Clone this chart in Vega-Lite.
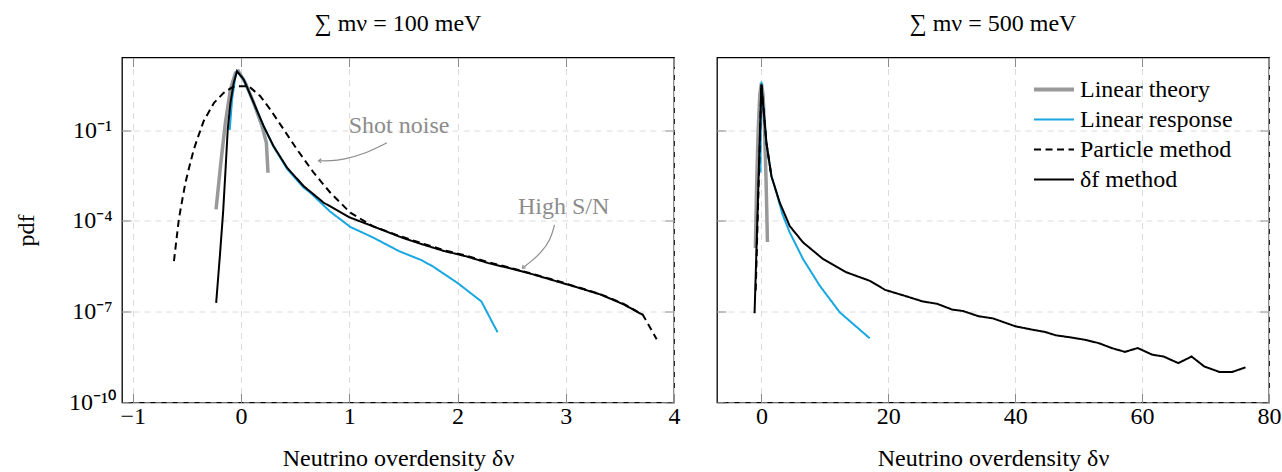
{
  "$schema": "https://vega.github.io/schema/vega-lite/v6.json",
  "background": "white",
  "padding": {"left": 13, "top": 10.5, "right": 0, "bottom": 0},
  "spacing": 34,
  "config": {
    "font": "Liberation Serif",
    "view": {"stroke": "#000000", "strokeWidth": 1.3},
    "axis": {
      "labelFont": "Liberation Serif", "titleFont": "Liberation Serif",
      "labelFontSize": 24, "titleFontSize": 24, "titleFontWeight": "normal",
      "labelColor": "#000000", "titleColor": "#000000",
      "domain": false, "ticks": true, "tickColor": "#8c8c8c", "tickSize": -9, "tickWidth": 1,
      "grid": true, "gridColor": "#dcdcdc", "gridDash": [6, 5], "gridWidth": 1,
      "labelFlush": false, "labelOverlap": false
    },
    "axisX": {"labelPadding": 10.5, "titlePadding": 18},
    "title": {"font": "Liberation Serif", "fontSize": 24, "fontWeight": "normal", "frame": "group", "anchor": "middle", "offset": 21, "baseline": "alphabetic", "color": "#000000"},
    "legend": {"labelFont": "Liberation Serif", "labelFontSize": 24, "labelColor": "#000000", "labelLimit": 0, "symbolType": "stroke", "symbolSize": 1600, "symbolStrokeWidth": 2, "rowPadding": 6, "labelOffset": 14, "padding": 0}
  },
  "resolve": {"scale": {"color": "independent", "strokeDash": "independent"}, "legend": {"color": "independent", "strokeDash": "independent"}},
  "datasets": {
    "m100": [
      {"series": "Linear theory", "x": -0.231, "y": 2.4e-4},
      {"series": "Linear theory", "x": -0.19, "y": 6.5e-3},
      {"series": "Linear theory", "x": -0.145, "y": 0.174},
      {"series": "Linear theory", "x": -0.098, "y": 2.19},
      {"series": "Linear theory", "x": -0.052, "y": 7.76},
      {"series": "Linear theory", "x": -0.025, "y": 8.8},
      {"series": "Linear theory", "x": 0.04, "y": 3.63},
      {"series": "Linear theory", "x": 0.117, "y": 0.794},
      {"series": "Linear theory", "x": 0.194, "y": 0.135},
      {"series": "Linear theory", "x": 0.234, "y": 0.038},
      {"series": "Linear theory", "x": 0.249, "y": 3.9e-3},
      {"series": "Linear response", "x": -0.105, "y": 0.1},
      {"series": "Linear response", "x": -0.083, "y": 1.02},
      {"series": "Linear response", "x": -0.052, "y": 6.03},
      {"series": "Linear response", "x": -0.037, "y": 8.9},
      {"series": "Linear response", "x": 0.025, "y": 4.57},
      {"series": "Linear response", "x": 0.117, "y": 0.776},
      {"series": "Linear response", "x": 0.209, "y": 0.132},
      {"series": "Linear response", "x": 0.3, "y": 0.0282},
      {"series": "Linear response", "x": 0.425, "y": 5.25e-3},
      {"series": "Linear response", "x": 0.578, "y": 1.26e-3},
      {"series": "Linear response", "x": 0.64, "y": 8.5e-4},
      {"series": "Linear response", "x": 0.825, "y": 2.0e-4},
      {"series": "Linear response", "x": 1.01, "y": 6.3e-5},
      {"series": "Linear response", "x": 1.22, "y": 2.82e-5},
      {"series": "Linear response", "x": 1.46, "y": 1.0e-5},
      {"series": "Linear response", "x": 1.67, "y": 5.0e-6},
      {"series": "Linear response", "x": 1.78, "y": 3.0e-6},
      {"series": "Linear response", "x": 2.0, "y": 8.9e-7},
      {"series": "Linear response", "x": 2.22, "y": 2.19e-7},
      {"series": "Linear response", "x": 2.37, "y": 2.09e-8},
      {"series": "Particle method", "x": -0.62, "y": 4.7e-6},
      {"series": "Particle method", "x": -0.575, "y": 1.12e-4},
      {"series": "Particle method", "x": -0.538, "y": 6.3e-4},
      {"series": "Particle method", "x": -0.514, "y": 1.82e-3},
      {"series": "Particle method", "x": -0.475, "y": 6.8e-3},
      {"series": "Particle method", "x": -0.437, "y": 0.0229},
      {"series": "Particle method", "x": -0.39, "y": 0.071},
      {"series": "Particle method", "x": -0.345, "y": 0.2},
      {"series": "Particle method", "x": -0.25, "y": 0.794},
      {"series": "Particle method", "x": -0.16, "y": 1.7},
      {"series": "Particle method", "x": -0.08, "y": 2.63},
      {"series": "Particle method", "x": -0.04, "y": 2.82},
      {"series": "Particle method", "x": 0.07, "y": 2.82},
      {"series": "Particle method", "x": 0.178, "y": 1.32},
      {"series": "Particle method", "x": 0.27, "y": 0.479},
      {"series": "Particle method", "x": 0.394, "y": 0.105},
      {"series": "Particle method", "x": 0.517, "y": 0.0229},
      {"series": "Particle method", "x": 0.671, "y": 3.9e-3},
      {"series": "Particle method", "x": 0.825, "y": 8.5e-4},
      {"series": "Particle method", "x": 1.01, "y": 1.86e-4},
      {"series": "Particle method", "x": 1.22, "y": 6.6e-5},
      {"series": "Particle method", "x": 1.44, "y": 3.4e-5},
      {"series": "Particle method", "x": 1.67, "y": 1.82e-5},
      {"series": "Particle method", "x": 1.88, "y": 1.07e-5},
      {"series": "Particle method", "x": 2.08, "y": 7.1e-6},
      {"series": "Particle method", "x": 2.29, "y": 4.27e-6},
      {"series": "Particle method", "x": 2.5, "y": 2.75e-6},
      {"series": "Particle method", "x": 2.7, "y": 1.74e-6},
      {"series": "Particle method", "x": 2.91, "y": 1.07e-6},
      {"series": "Particle method", "x": 3.11, "y": 6.5e-7},
      {"series": "Particle method", "x": 3.32, "y": 3.8e-7},
      {"series": "Particle method", "x": 3.53, "y": 1.86e-7},
      {"series": "Particle method", "x": 3.71, "y": 8.1e-8},
      {"series": "Particle method", "x": 3.84, "y": 1.23e-8},
      {"series": "δf method", "x": -0.23, "y": 1.95e-7},
      {"series": "δf method", "x": -0.196, "y": 6.8e-6},
      {"series": "δf method", "x": -0.166, "y": 1.9e-4},
      {"series": "δf method", "x": -0.145, "y": 3.9e-3},
      {"series": "δf method", "x": -0.123, "y": 0.105},
      {"series": "δf method", "x": -0.098, "y": 0.794},
      {"series": "δf method", "x": -0.068, "y": 3.63},
      {"series": "δf method", "x": -0.037, "y": 8.8},
      {"series": "δf method", "x": 0.025, "y": 4.68},
      {"series": "δf method", "x": 0.117, "y": 0.794},
      {"series": "δf method", "x": 0.209, "y": 0.135},
      {"series": "δf method", "x": 0.3, "y": 0.0295},
      {"series": "δf method", "x": 0.425, "y": 5.75e-3},
      {"series": "δf method", "x": 0.578, "y": 1.41e-3},
      {"series": "δf method", "x": 0.763, "y": 4.0e-4},
      {"series": "δf method", "x": 1.0, "y": 1.32e-4},
      {"series": "δf method", "x": 1.25, "y": 6.0e-5},
      {"series": "δf method", "x": 1.5, "y": 2.69e-5},
      {"series": "δf method", "x": 1.67, "y": 1.7e-5},
      {"series": "δf method", "x": 1.88, "y": 1.0e-5},
      {"series": "δf method", "x": 2.08, "y": 6.76e-6},
      {"series": "δf method", "x": 2.29, "y": 3.98e-6},
      {"series": "δf method", "x": 2.5, "y": 2.63e-6},
      {"series": "δf method", "x": 2.7, "y": 1.7e-6},
      {"series": "δf method", "x": 2.91, "y": 1.02e-6},
      {"series": "δf method", "x": 3.11, "y": 6.3e-7},
      {"series": "δf method", "x": 3.32, "y": 3.7e-7},
      {"series": "δf method", "x": 3.53, "y": 1.78e-7},
      {"series": "δf method", "x": 3.71, "y": 7.9e-8}
    ],
    "m500": [
      {"series": "Linear theory", "x": -0.95, "y": 1.26e-5},
      {"series": "Linear theory", "x": -0.75, "y": 1.6e-3},
      {"series": "Linear theory", "x": -0.5, "y": 0.112},
      {"series": "Linear theory", "x": -0.25, "y": 1.51},
      {"series": "Linear theory", "x": 0, "y": 3.55},
      {"series": "Linear theory", "x": 0.25, "y": 1.51},
      {"series": "Linear theory", "x": 0.5, "y": 0.112},
      {"series": "Linear theory", "x": 0.75, "y": 1.6e-3},
      {"series": "Linear theory", "x": 0.95, "y": 2.0e-5},
      {"series": "Linear response", "x": -0.16, "y": 3.98e-3},
      {"series": "Linear response", "x": 0, "y": 3.98},
      {"series": "Linear response", "x": 0.79, "y": 0.0355},
      {"series": "Linear response", "x": 1.58, "y": 2.95e-3},
      {"series": "Linear response", "x": 2.36, "y": 8.7e-4},
      {"series": "Linear response", "x": 3.3, "y": 1.7e-4},
      {"series": "Linear response", "x": 4.46, "y": 4.17e-5},
      {"series": "Linear response", "x": 6.56, "y": 5.5e-6},
      {"series": "Linear response", "x": 9.19, "y": 7.24e-7},
      {"series": "Linear response", "x": 12.34, "y": 9.55e-8},
      {"series": "Linear response", "x": 17.07, "y": 1.32e-8},
      {"series": "Particle method", "x": -0.9, "y": 5.0e-7},
      {"series": "Particle method", "x": 0, "y": 3.24},
      {"series": "Particle method", "x": 0.79, "y": 0.038},
      {"series": "Particle method", "x": 1.58, "y": 3.0e-3},
      {"series": "δf method", "x": -1.08, "y": 8.9e-8},
      {"series": "δf method", "x": 0, "y": 3.24},
      {"series": "δf method", "x": 0.79, "y": 0.038},
      {"series": "δf method", "x": 1.58, "y": 3.0e-3},
      {"series": "δf method", "x": 2.88, "y": 4.07e-4},
      {"series": "δf method", "x": 4.46, "y": 6.76e-5},
      {"series": "δf method", "x": 6.56, "y": 1.95e-5},
      {"series": "δf method", "x": 9.71, "y": 5.5e-6},
      {"series": "δf method", "x": 13.4, "y": 2.0e-6},
      {"series": "δf method", "x": 17.07, "y": 1.05e-6},
      {"series": "δf method", "x": 19.5, "y": 5.25e-7},
      {"series": "δf method", "x": 22.5, "y": 3.39e-7},
      {"series": "δf method", "x": 25.4, "y": 2.19e-7},
      {"series": "δf method", "x": 27.7, "y": 1.82e-7},
      {"series": "δf method", "x": 30.1, "y": 1.17e-7},
      {"series": "δf method", "x": 31.8, "y": 1.05e-7},
      {"series": "δf method", "x": 34.2, "y": 7.1e-8},
      {"series": "δf method", "x": 36.5, "y": 6.0e-8},
      {"series": "δf method", "x": 40.0, "y": 3.3e-8},
      {"series": "δf method", "x": 42.9, "y": 2.5e-8},
      {"series": "δf method", "x": 44.7, "y": 2.14e-8},
      {"series": "δf method", "x": 46.4, "y": 1.66e-8},
      {"series": "δf method", "x": 48.8, "y": 1.41e-8},
      {"series": "δf method", "x": 51.1, "y": 1.17e-8},
      {"series": "δf method", "x": 53.2, "y": 9.1e-9},
      {"series": "δf method", "x": 55.2, "y": 6.3e-9},
      {"series": "δf method", "x": 57.3, "y": 4.7e-9},
      {"series": "δf method", "x": 59.3, "y": 6.3e-9},
      {"series": "δf method", "x": 61.6, "y": 3.8e-9},
      {"series": "δf method", "x": 63.4, "y": 3.3e-9},
      {"series": "δf method", "x": 65.7, "y": 2.0e-9},
      {"series": "δf method", "x": 67.8, "y": 3.3e-9},
      {"series": "δf method", "x": 69.8, "y": 1.55e-9},
      {"series": "δf method", "x": 72.2, "y": 1.02e-9},
      {"series": "δf method", "x": 74.2, "y": 1.02e-9},
      {"series": "δf method", "x": 76.3, "y": 1.45e-9}
    ],
    "notes100": [
      {"label": "Shot noise", "x": 1.46, "y": 0.132},
      {"label": "High S/N", "x": 2.98, "y": 2.8e-4}
    ],
    "arrows100": [
      {"arrow": "shot", "x": 1.348, "y": 0.0382},
      {"arrow": "shot", "x": 1.132, "y": 0.0158},
      {"arrow": "shot", "x": 0.948, "y": 0.0108},
      {"arrow": "shot", "x": 0.825, "y": 0.0095},
      {"arrow": "shot", "x": 0.717, "y": 0.00975},
      {"arrow": "hsn", "x": 2.896, "y": 7.4e-5},
      {"arrow": "hsn", "x": 2.86, "y": 2.4e-5},
      {"arrow": "hsn", "x": 2.77, "y": 8.7e-6},
      {"arrow": "hsn", "x": 2.68, "y": 4.57e-6},
      {"arrow": "hsn", "x": 2.6, "y": 2.75e-6}
    ],
    "heads100": [
      {"x": 0.717, "y": 0.00975, "angle": 0},
      {"x": 2.6, "y": 2.75e-6, "angle": -40}
    ]
  },
  "hconcat": [
    {
      "width": 552,
      "height": 345,
      "title": {"text": "∑ mν = 100 meV"},
      "layer": [
        {
          "data": {"name": "m100"},
          "mark": {"type": "line", "clip": true},
          "encoding": {
            "x": {"field": "x", "type": "quantitative", "scale": {"domain": [-1.1, 4], "nice": false, "zero": false}, "axis": {"values": [-1, 0, 1, 2, 3, 4], "title": "Neutrino overdensity δν"}},
            "y": {"field": "y", "type": "quantitative", "scale": {"type": "log", "domain": [1e-10, 25], "nice": false}, "axis": {"values": [1e-10, 1e-7, 1e-4, 0.1], "title": "pdf", "labelExpr": "datum.value < 1e-9 ? '10⁻¹⁰' : datum.value < 1e-6 ? '10⁻⁷' : datum.value < 1e-3 ? '10⁻⁴' : '10⁻¹'", "labelAlign": "center", "labelBaseline": "middle", "labelPadding": 39, "titlePadding": 30}},
            "color": {"field": "series", "type": "nominal", "scale": {"domain": ["Linear theory", "Linear response", "Particle method", "δf method"], "range": ["#999999", "#19a7e2", "#000000", "#000000"]}, "legend": null},
            "strokeDash": {"field": "series", "type": "nominal", "scale": {"domain": ["Linear theory", "Linear response", "Particle method", "δf method"], "range": [[1, 0], [1, 0], [7, 4.5], [1, 0]]}, "legend": null},
            "strokeWidth": {"condition": {"test": "datum.series === 'Linear theory'", "value": 3.5}, "value": 2}
          }
        },
        {
          "data": {"name": "notes100"},
          "mark": {"type": "point", "opacity": 0},
          "encoding": {
            "x": {"field": "x", "type": "quantitative", "axis": {"orient": "top", "values": [-1, 0, 1, 2, 3, 4], "labels": false, "grid": false, "title": null}},
            "y": {"field": "y", "type": "quantitative", "axis": {"orient": "right", "values": [1e-10, 1e-7, 1e-4, 0.1], "labels": false, "grid": false, "title": null}}
          }
        },
        {
          "data": {"name": "arrows100"},
          "mark": {"type": "line", "interpolate": "basis", "color": "#8c8c8c", "strokeWidth": 1.2},
          "encoding": {
            "x": {"field": "x", "type": "quantitative", "axis": null},
            "y": {"field": "y", "type": "quantitative", "axis": null},
            "detail": {"field": "arrow", "type": "nominal"}
          }
        },
        {
          "data": {"name": "heads100"},
          "mark": {"type": "point", "shape": "M1.3,-1L0,0L1.3,1", "filled": false, "stroke": "#8c8c8c", "strokeWidth": 1.2, "size": 16, "opacity": 1},
          "encoding": {
            "x": {"field": "x", "type": "quantitative", "axis": null},
            "y": {"field": "y", "type": "quantitative", "axis": null},
            "angle": {"field": "angle", "type": "quantitative", "scale": null}
          }
        },
        {
          "data": {"name": "notes100"},
          "mark": {"type": "text", "font": "Liberation Serif", "fontSize": 24, "color": "#8c8c8c"},
          "encoding": {
            "x": {"field": "x", "type": "quantitative", "axis": null},
            "y": {"field": "y", "type": "quantitative", "axis": null},
            "text": {"field": "label", "type": "nominal"}
          }
        }
      ],
      "resolve": {"axis": {"x": "independent", "y": "independent"}}
    },
    {
      "width": 552,
      "height": 345,
      "title": {"text": "∑ mν = 500 meV"},
      "layer": [
        {
          "data": {"name": "m500"},
          "mark": {"type": "line", "clip": true},
          "encoding": {
            "x": {"field": "x", "type": "quantitative", "scale": {"domain": [-7, 80], "nice": false, "zero": false}, "axis": {"values": [0, 20, 40, 60, 80], "title": "Neutrino overdensity δν"}},
            "y": {"field": "y", "type": "quantitative", "scale": {"type": "log", "domain": [1e-10, 25], "nice": false}, "axis": {"values": [1e-10, 1e-7, 1e-4, 0.1], "labels": false, "title": null}},
            "color": {"field": "series", "type": "nominal", "scale": {"domain": ["Linear theory", "Linear response", "Particle method", "δf method"], "range": ["#999999", "#19a7e2", "#000000", "#000000"]}, "legend": {"title": null, "orient": "none", "legendX": 325, "legendY": 20, "encode": {"symbols": {"update": {"strokeWidth": {"signal": "datum.value === 'Linear theory' ? 4 : 2"}}}}}},
            "strokeDash": {"field": "series", "type": "nominal", "scale": {"domain": ["Linear theory", "Linear response", "Particle method", "δf method"], "range": [[1, 0], [1, 0], [7, 4.5], [1, 0]]}, "legend": {"title": null, "orient": "none", "legendX": 325, "legendY": 20, "encode": {"symbols": {"update": {"strokeWidth": {"signal": "datum.value === 'Linear theory' ? 4 : 2"}}}}}},
            "strokeWidth": {"condition": {"test": "datum.series === 'Linear theory'", "value": 3.5}, "value": 2}
          }
        },
        {
          "data": {"name": "notes100"},
          "mark": {"type": "point", "opacity": 0},
          "encoding": {
            "x": {"field": "x", "type": "quantitative", "axis": {"orient": "top", "values": [0, 20, 40, 60, 80], "labels": false, "grid": false, "title": null}},
            "y": {"field": "y", "type": "quantitative", "axis": {"orient": "right", "values": [1e-10, 1e-7, 1e-4, 0.1], "labels": false, "grid": false, "title": null}}
          }
        }
      ],
      "resolve": {"axis": {"x": "independent", "y": "independent"}}
    }
  ]
}
